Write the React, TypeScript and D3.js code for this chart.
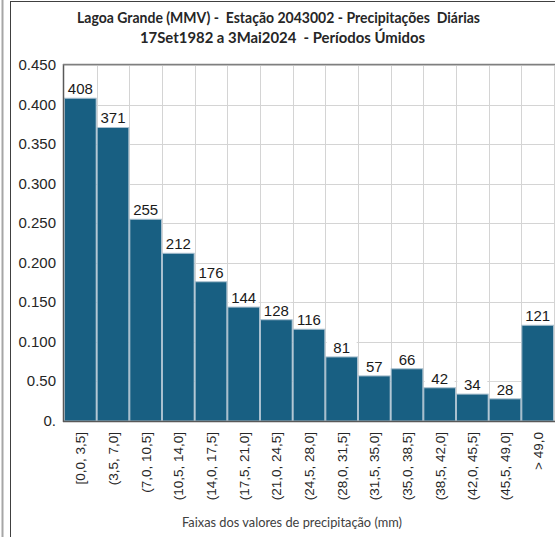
import React from "react";
import * as d3 from "d3";

const categories = [
  "[0,0, 3,5]", "(3,5, 7,0]", "(7,0, 10,5]", "(10,5, 14,0]", "(14,0, 17,5]",
  "(17,5, 21,0]", "(21,0, 24,5]", "(24,5, 28,0]", "(28,0, 31,5]", "(31,5, 35,0]",
  "(35,0, 38,5]", "(38,5, 42,0]", "(42,0, 45,5]", "(45,5, 49,0]", "> 49,0",
];
const counts = [408, 371, 255, 212, 176, 144, 128, 116, 81, 57, 66, 42, 34, 28, 121];
const values = counts.map((c) => c / 1000);
const yTickValues = [0, 0.05, 0.1, 0.15, 0.2, 0.25, 0.3, 0.35, 0.4, 0.45];
const yTickLabels = ["0.", "0.50", "0.100", "0.150", "0.200", "0.250", "0.300", "0.350", "0.400", "0.450"];
const titleLine1 = "Lagoa Grande (MMV) -  Estação 2043002 - Precipitações  Diárias";
const titleLine2 = "17Set1982 a 3Mai2024  - Períodos Úmidos";
const xTitle = "Faixas dos valores de precipitação (mm)";

export default function App() {
  const W = 555, H = 537;
  const plot = { left: 64, right: 554, top: 65, bottom: 421 };
  const x = d3.scaleBand<string>().domain(categories).range([plot.left, plot.right]).padding(0);
  const y = d3.scaleLinear().domain([0, 0.45]).range([plot.bottom, plot.top]);
  const bw = x.bandwidth();
  const axisFont = "'Liberation Sans', Arial, sans-serif";
  const titleFont = "Lato, 'Open Sans', sans-serif";

  return (
    <svg width={W} height={H} style={{ position: "absolute", left: 0, top: 0, background: "#fff" }}>
      <rect x={0} y={0} width={W} height={H} fill="#fff" />
      {/* outer frame lines */}
      <line x1={2.5} y1={0} x2={2.5} y2={H} stroke="#a6a6a6" strokeWidth={2} />
      <line x1={10.5} y1={1} x2={10.5} y2={H} stroke="#404040" strokeWidth={1} />
      <line x1={10} y1={1.5} x2={W} y2={1.5} stroke="#404040" strokeWidth={1} />

      {/* title */}
      <text x={278.5} y={23} textAnchor="middle" fontFamily={titleFont} fontWeight={700} fontSize={15} fill="#262626" style={{ whiteSpace: "pre" }} textLength={403} lengthAdjust="spacingAndGlyphs">
        {titleLine1}
      </text>
      <text x={282.5} y={43} textAnchor="middle" fontFamily={titleFont} fontWeight={700} fontSize={14.5} fill="#262626" style={{ whiteSpace: "pre" }} textLength={285} lengthAdjust="spacingAndGlyphs">
        {titleLine2}
      </text>

      {/* grid */}
      {yTickValues.map((v, i) => (
        <line key={"hg" + i} x1={plot.left} x2={plot.right} y1={Math.round(y(v)) + 0.5} y2={Math.round(y(v)) + 0.5} stroke="#d4d4d4" strokeWidth={1} />
      ))}
      {categories.map((c, i) => (
        <line key={"vg" + i} x1={Math.round(x(c)! + bw) + 0.5} x2={Math.round(x(c)! + bw) + 0.5} y1={plot.top} y2={plot.bottom} stroke="#d4d4d4" strokeWidth={1} />
      ))}

      {/* bars */}
      {categories.map((c, i) => (
        <rect key={"b" + i} x={x(c)! + 0.5} y={y(values[i])} width={bw - 1} height={plot.bottom - y(values[i])} fill="#185f82" stroke="#a9c0cf" strokeWidth={1} />
      ))}

      {/* bar labels */}
      {categories.map((c, i) => {
        const cx = x(c)! + bw / 2;
        const ty = y(values[i]) - 4;
        return (
          <g key={"l" + i}>
            <rect x={cx - 15} y={ty - 13} width={30} height={15} fill="#fff" />
            <text x={cx} y={ty} textAnchor="middle" fontFamily={axisFont} fontSize={15} fill="#1a1a1a">
              {counts[i]}
            </text>
          </g>
        );
      })}

      {/* plot frame */}
      <line x1={plot.left - 0.5} x2={plot.left - 0.5} y1={plot.top - 1} y2={plot.bottom + 1} stroke="#595959" strokeWidth={1.5} />
      <line x1={plot.left - 1} x2={W} y1={plot.top - 0.5} y2={plot.top - 0.5} stroke="#7f7f7f" strokeWidth={1.5} />
      <line x1={plot.left - 1} x2={W} y1={plot.bottom + 0.5} y2={plot.bottom + 0.5} stroke="#595959" strokeWidth={1.5} />

      {/* y tick labels */}
      {yTickValues.map((v, i) => (
        <text key={"yt" + i} x={56} y={y(v) + 5} textAnchor="end" fontFamily={axisFont} fontSize={15} fill="#262626">
          {yTickLabels[i]}
        </text>
      ))}

      {/* x tick labels */}
      {categories.map((c, i) => {
        const cx = x(c)! + bw / 2 + 5;
        const ty = 432;
        return (
          <text key={"xt" + i} transform={`translate(${cx},${ty}) rotate(-90)`} textAnchor="end" fontFamily={axisFont} fontSize={13.5} fill="#262626">
            {c}
          </text>
        );
      })}

      {/* x title */}
      <text x={292} y={527} textAnchor="middle" fontFamily={titleFont} fontSize={13.5} fill="#404040" textLength={220} lengthAdjust="spacingAndGlyphs">
        {xTitle}
      </text>
    </svg>
  );
}
